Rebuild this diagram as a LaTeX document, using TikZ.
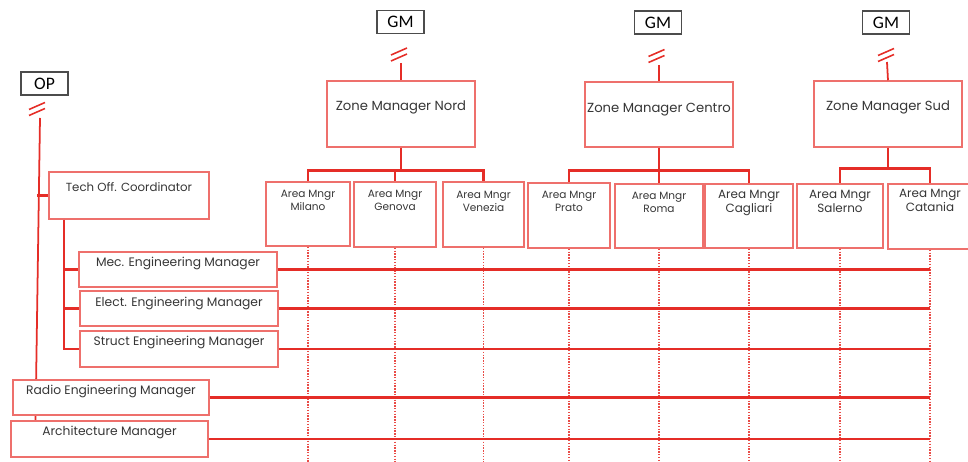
\documentclass[tikz,border=0pt]{standalone}
\usepackage{fontspec}
\setmainfont{Poppins}
\newfontfamily\gmfont{Carlito}
\definecolor{linered}{RGB}{229,45,39}
\definecolor{boxred}{RGB}{238,112,108}
\definecolor{txtgray}{RGB}{55,55,55}
\tikzset{
  box/.style 2 args={draw=boxred, fill=white, line width=0.85pt, inner sep=0pt,
    minimum width=#1*0.02cm, minimum height=#2*0.02cm},
  boss/.style={draw=black!70, fill=white, line width=0.6pt, inner sep=0pt,
    minimum width=0.94cm, minimum height=0.46cm, font=\gmfont\fontsize{10}{12}\selectfont},
  zonetxt/.style={font=\fontsize{7.5}{9}\selectfont, text=txtgray, inner sep=0pt, anchor=north},
  mgrtxt/.style={font=\fontsize{7}{9}\selectfont, text=txtgray, inner sep=0pt, anchor=north},
  areatxt/.style={font=\fontsize{6}{7.4}\selectfont, text=txtgray, inner sep=0pt, anchor=north, align=center},
  areatxtb/.style={font=\fontsize{6.8}{8}\selectfont, text=txtgray, inner sep=0pt, anchor=north, align=center},
  thinline/.style={linered, line width=1pt},
  bar/.style={linered, line width=1.6pt},
  hline/.style={linered, line width=1.25pt},
  hthick/.style={linered, line width=1.7pt},
  dotline/.style={linered!85, line width=0.7pt, dash pattern=on 0.8pt off 0.8pt},
  cutmark/.pic={\draw[linered, line width=0.9pt] (-8,3.5) -- (8,-3.5) (-8,9.5) -- (8,2.5);}
}
\begin{document}
\begin{tikzpicture}[x=0.02cm, y=-0.02cm]
\useasboundingbox (0,0) rectangle (968,462);

\node[boss] (op) at (44.5,83.5) {OP};
\node[boss] (gmnord) at (400.5,22) {GM};
\node[boss] (gmcentro) at (658,22.5) {GM};
\node[boss] (gmsud) at (886,22.5) {GM};
\pic at (37,106) {cutmark};
\pic at (399,51.5) {cutmark};
\pic at (656.5,53) {cutmark};
\pic at (886,52) {cutmark};

\coordinate (opcut) at (40,118);
\coordinate (opend) at (35.5,421);
\coordinate (opjoin) at (37,195.5);
\draw[thinline] (opcut) -- (opend);

\node[box={148}{66}, label={[zonetxt, yshift=-0.41cm]north:Zone Manager Nord}] (nord) at (401,114) {};
\node[box={148}{65}, label={[zonetxt, yshift=-0.43cm]north:Zone Manager Centro}] (centro) at (659,114.5) {};
\node[box={148}{66}, label={[zonetxt, yshift=-0.41cm]north:Zone Manager Sud}] (sud) at (888,114) {};

\node[box={84}{64}, label={[areatxt, yshift=-0.18cm]north:{Area Mngr\\Milano}}] (milano) at (308,214) {};
\node[box={82}{65}, label={[areatxt, yshift=-0.18cm]north:{Area Mngr\\Genova}}] (genova) at (395,214.5) {};
\node[box={81}{65}, label={[areatxt, yshift=-0.2cm]north:{Area Mngr\\Venezia}}] (venezia) at (483.5,214.5) {};
\node[box={82}{65}, label={[areatxt, yshift=-0.18cm]north:{Area Mngr\\Prato}}] (prato) at (569,215.5) {};
\node[box={88}{64}, label={[areatxt, yshift=-0.18cm]north:{Area Mngr\\Roma}}] (roma) at (659,216) {};
\node[box={88}{64}, label={[areatxtb, yshift=-0.14cm]north:{Area Mngr\\Cagliari}}] (cagliari) at (749,216) {};
\node[box={86}{64}, label={[areatxtb, yshift=-0.14cm]north:{Area Mngr\\Salerno}}] (salerno) at (840,216) {};
\node[box={84}{65}, label={[areatxtb, yshift=-0.12cm]north:{Area Mngr\\Catania}}] (catania) at (930,216.5) {};

\node[box={160}{47}, label={[mgrtxt, font=\fontsize{6.7}{9}\selectfont, yshift=-0.22cm]north:Tech Off. Coordinator}] (tech) at (129,195.5) {};
\node[box={198}{35}, label={[mgrtxt, yshift=-0.12cm]north:Mec. Engineering Manager}] (mec) at (178,269.5) {};
\node[box={198}{35}, label={[mgrtxt, yshift=-0.14cm]north:Elect. Engineering Manager}] (elect) at (179,308.5) {};
\node[box={198}{36}, label={[mgrtxt, yshift=-0.12cm]north:Struct Engineering Manager}] (struct) at (179,349) {};
\node[box={196}{35}, label={[mgrtxt, yshift=-0.12cm]north:Radio Engineering Manager}] (radio) at (111,397.5) {};
\node[box={197}{36}, label={[mgrtxt, yshift=-0.12cm]north:Architecture Manager}] (arch) at (109.5,439) {};

\coordinate (nordcut) at (401,63);
\coordinate (centrocut) at (659,65);
\coordinate (sudcut) at (887,62);
\draw[thinline] (nordcut) -- (nord.north);
\draw[thinline] (centrocut) -- (centro.north);
\draw[thinline] (sudcut) -- (sud.north);

\path (nord.south) ++(0,23) coordinate (nordfork);
\path (centro.south) ++(0,23) coordinate (centrofork);
\path (sud.south) ++(0,21) coordinate (sudfork);
\draw[thinline] (nord.south) -- (nordfork);
\draw[thinline] (centro.south) -- (centrofork);
\draw[thinline] (sud.south) -- (sudfork);
\draw[bar] (nordfork) -| (milano.north);
\draw[bar] (nordfork) -| (genova.north);
\draw[bar] (nordfork) -| (venezia.north);
\draw[bar] (centrofork) -| (prato.north);
\draw[bar] (centrofork) -- (roma.north);
\draw[bar] (centrofork) -| (cagliari.north);
\draw[bar] (sudfork) -| (salerno.north);
\draw[bar] (sudfork) -| (catania.north);

\draw[hthick] (opjoin) -- (tech.west);
\path (tech.south west) ++(16,0) coordinate (techdrop);
\draw[thinline] (techdrop) |- (struct.west);
\draw[hline] (techdrop |- mec.west) -- (mec.west);
\draw[hline] (techdrop |- elect.west) -- (elect.west);
\draw[hthick] (techdrop |- struct.west) -- (struct.west);

\coordinate (bottom) at (0,462);
\foreach \a in {milano,genova,venezia,prato,roma,cagliari,salerno,catania}
  \draw[dotline] (\a.south) -- (\a.south |- bottom);

\draw[hline] (mec.east) -- (mec.east -| catania.south);
\draw[hline] (elect.east) -- (elect.east -| catania.south);
\draw[hthick] (struct.east) -- (struct.east -| catania.south);
\draw[hthick] (radio.east) -- (radio.east -| catania.south);
\draw[hthick] (arch.east) -- (arch.east -| catania.south);
\end{tikzpicture}
\end{document}
